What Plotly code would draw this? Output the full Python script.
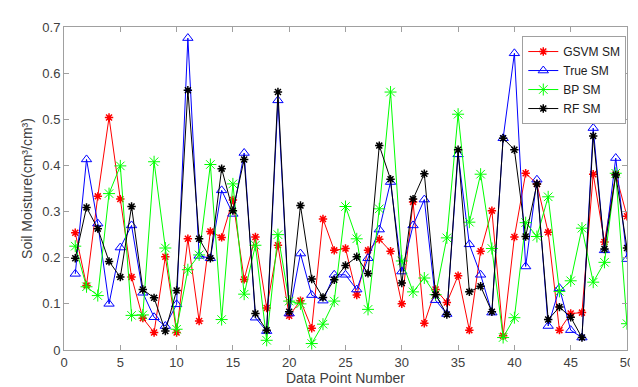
import plotly.graph_objects as go

x = list(range(1, 51))

gsvm = [0.254, 0.14, 0.333, 0.504, 0.327, 0.158, 0.069, 0.038, 0.202, 0.038,
        0.241, 0.063, 0.257, 0.244, 0.325, 0.153, 0.245, 0.091, 0.227, 0.074,
        0.107, 0.047, 0.284, 0.216, 0.22, 0.119, 0.216, 0.24, 0.214, 0.1,
        0.321, 0.058, 0.131, 0.103, 0.161, 0.043, 0.214, 0.302, 0.031, 0.245,
        0.383, 0.36, 0.255, 0.043, 0.079, 0.081, 0.381, 0.234, 0.381, 0.29]

true_sm = [0.165, 0.413, 0.274, 0.1, 0.222, 0.27, 0.124, 0.071, 0.052, 0.099,
           0.676, 0.204, 0.199, 0.346, 0.295, 0.427, 0.07, 0.041, 0.541, 0.079,
           0.209, 0.119, 0.107, 0.163, 0.163, 0.131, 0.199, 0.261, 0.364, 0.17,
           0.27, 0.326, 0.108, 0.078, 0.424, 0.229, 0.163, 0.081, 0.459, 0.643,
           0.181, 0.369, 0.052, 0.134, 0.043, 0.027, 0.481, 0.216, 0.416, 0.197]

bp = [0.225, 0.137, 0.118, 0.339, 0.399, 0.075, 0.076, 0.408, 0.221, 0.045,
      0.174, 0.206, 0.402, 0.066, 0.36, 0.121, 0.227, 0.021, 0.25, 0.106,
      0.1, 0.014, 0.056, 0.106, 0.311, 0.241, 0.088, 0.306, 0.559, 0.193,
      0.126, 0.156, 0.12, 0.243, 0.511, 0.277, 0.381, 0.22, 0.027, 0.07,
      0.276, 0.246, 0.332, 0.127, 0.15, 0.264, 0.147, 0.19, 0.383, 0.057]

rf = [0.199, 0.309, 0.263, 0.192, 0.158, 0.311, 0.131, 0.113, 0.041, 0.129,
      0.563, 0.241, 0.199, 0.393, 0.302, 0.413, 0.079, 0.043, 0.559, 0.083,
      0.313, 0.154, 0.114, 0.152, 0.183, 0.202, 0.166, 0.443, 0.37, 0.145,
      0.327, 0.382, 0.12, 0.077, 0.434, 0.126, 0.138, 0.083, 0.459, 0.434,
      0.246, 0.36, 0.066, 0.093, 0.071, 0.027, 0.464, 0.219, 0.379, 0.221]

x_ticks = [0, 5, 10, 15, 20, 25, 30, 35, 40, 45, 50]
y_ticks = [0, 0.1, 0.2, 0.3, 0.4, 0.5, 0.6, 0.7]

fig = go.Figure()
fig.add_trace(go.Scatter(
    x=x, y=gsvm, name="GSVM SM", mode="lines+markers",
    line=dict(color="#FF0000", width=1),
    marker=dict(symbol="asterisk-open", size=7, color="#FF0000",
                line=dict(color="#FF0000", width=1.5))))
fig.add_trace(go.Scatter(
    x=x, y=true_sm, name="True SM", mode="lines+markers",
    line=dict(color="#0000FF", width=1),
    marker=dict(symbol="triangle-up-open", size=9, color="#0000FF",
                line=dict(color="#0000FF", width=1))))
fig.add_trace(go.Scatter(
    x=x, y=bp, name="BP SM", mode="lines+markers",
    line=dict(color="#00FF00", width=1),
    marker=dict(symbol="asterisk-open", size=10, color="#00FF00",
                line=dict(color="#00FF00", width=1))))
fig.add_trace(go.Scatter(
    x=x, y=rf, name="RF SM", mode="lines+markers",
    line=dict(color="#000000", width=1),
    marker=dict(symbol="asterisk-open", size=7, color="#000000",
                line=dict(color="#000000", width=1.5))))

axis_common = dict(
    showgrid=False, zeroline=False, showline=True, linecolor="#a0a0a0",
    linewidth=1, mirror="ticks", ticks="inside", ticklen=5,
    tickcolor="#a0a0a0", tickfont=dict(size=13, color="#404040"),
)

fig.update_layout(
    width=638, height=387,
    margin=dict(l=56, r=15, t=16, b=44),
    paper_bgcolor="white", plot_bgcolor="white",
    font=dict(family="Liberation Sans, Arial, sans-serif", color="#404040"),
    xaxis=dict(range=[0, 50], tickvals=x_ticks,
               title=dict(text="Data Point Number", font=dict(size=14), standoff=4),
               **axis_common),
    yaxis=dict(range=[0, 0.7], tickvals=y_ticks,
               ticktext=[("0" if v == 0 else f"{v:.1f}") for v in y_ticks],
               title=dict(text="Soil Moisture(cm³/cm³)", font=dict(size=14), standoff=6),
               **axis_common),
    legend=dict(x=0.814, y=0.972, xanchor="left", yanchor="top",
                bgcolor="white", bordercolor="#a0a0a0", borderwidth=1,
                font=dict(size=12, color="#202020"), tracegroupgap=0,
                itemwidth=30),
    showlegend=True,
)

fig.write_html("out.html")
